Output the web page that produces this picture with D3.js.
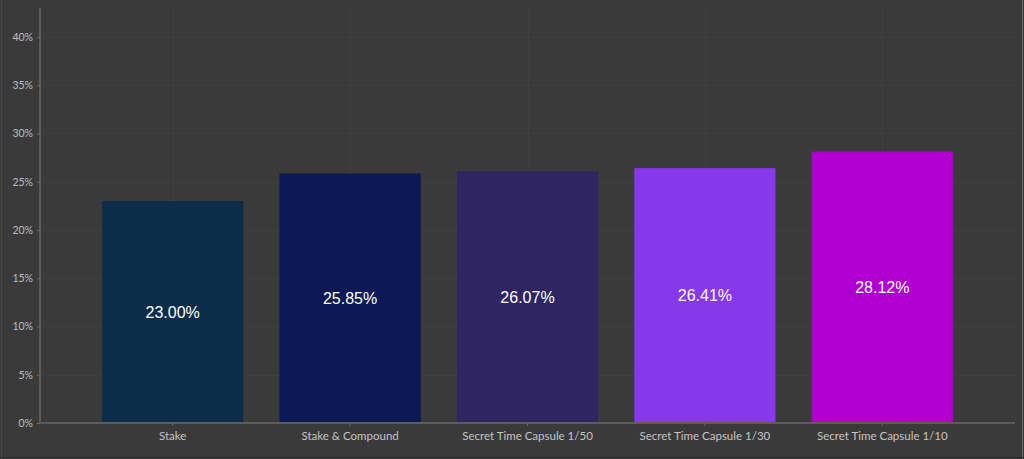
<!DOCTYPE html>
<html><head><meta charset="utf-8">
<script src="https://cdn.jsdelivr.net/npm/d3@7"></script>
<style>
html,body{margin:0;padding:0;background:#3a3a3b;}
svg{display:block;}
</style></head>
<body>
<svg id="chart" width="1024" height="459"></svg>
<script>
const categories = ["Stake","Stake & Compound","Secret Time Capsule 1/50","Secret Time Capsule 1/30","Secret Time Capsule 1/10"];
const values = [23.00, 25.85, 26.07, 26.41, 28.12];
const colors = ["#0b2d49","#0b1a55","#2f2563","#8638ea","#b000cf"];
const yTicks = [0,5,10,15,20,25,30,35,40];

const W = 1024, H = 459;
const m = {left:40, right:9, top:8, bottom:36};
const svg = d3.select("#chart");
svg.append("rect").attr("width",W).attr("height",H).attr("fill","#3a3a3b");
// borders
svg.append("line").attr("x1",1.5).attr("x2",1.5).attr("y1",0).attr("y2",H).attr("stroke","#474748").attr("stroke-width",1);
svg.append("line").attr("x1",W-1.5).attr("x2",W-1.5).attr("y1",0).attr("y2",H).attr("stroke","#6b6b6b").attr("stroke-width",1);
svg.append("line").attr("x1",0).attr("x2",W).attr("y1",H-1.5).attr("y2",H-1.5).attr("stroke","#2a2a2a").attr("stroke-width",1);

const x = d3.scaleBand().domain(categories).range([m.left, W-m.right]).paddingInner(0.204).paddingOuter(0.35);
const y = d3.scaleLinear().domain([0,43]).range([H-m.bottom, m.top]);

// grid
const g = svg.append("g");
g.selectAll(".hg").data(yTicks.filter(d=>d>0)).join("line")
  .attr("x1",m.left).attr("x2",W-m.right)
  .attr("y1",d=>Math.round(y(d))+0.5).attr("y2",d=>Math.round(y(d))+0.5)
  .attr("stroke","#444445").attr("stroke-dasharray","1,1");
g.selectAll(".vg").data(categories).join("line")
  .attr("x1",d=>Math.round(x(d)+x.bandwidth()/2)+0.5).attr("x2",d=>Math.round(x(d)+x.bandwidth()/2)+0.5)
  .attr("y1",m.top).attr("y2",y(0))
  .attr("stroke","#444445").attr("stroke-dasharray","1,1");

// bars
svg.selectAll(".bar").data(values).join("rect")
  .attr("x",(d,i)=>x(categories[i])).attr("width",x.bandwidth())
  .attr("y",d=>y(d)).attr("height",d=>y(0)-y(d))
  .attr("fill",(d,i)=>colors[i]);

svg.selectAll(".lbl").data(values).join("text")
  .attr("x",(d,i)=>x(categories[i])+x.bandwidth()/2)
  .attr("y",d=>(y(d)+y(0))/2)
  .attr("text-anchor","middle").attr("dominant-baseline","central")
  .attr("fill","#ffffff").attr("font-family","Liberation Sans, Arial, sans-serif").attr("font-size",16)
  .text(d=>d.toFixed(2)+"%");

// y axis
const ya = svg.append("g").attr("transform",`translate(${m.left},0)`)
  .call(d3.axisLeft(y).tickValues(yTicks).tickSize(3).tickPadding(4).tickFormat(d=>d+"%"));
ya.select(".domain").attr("stroke","#5c5c5d").attr("stroke-width",2).attr("d",`M0,${m.top}V${y(0)}`);
ya.selectAll(".tick line").attr("stroke","#6a6a6a");
ya.selectAll("text").attr("fill","#bdbdbd").attr("font-family","Lato, sans-serif").attr("font-size",10.5);

// x axis
const xa = svg.append("g").attr("transform",`translate(0,${y(0)})`)
  .call(d3.axisBottom(x).tickSize(3).tickPadding(6));
xa.select(".domain").attr("stroke","#5c5c5d").attr("stroke-width",2).attr("d",`M${m.left},0H${W-m.right}`);
xa.selectAll(".tick line").attr("stroke","#6a6a6a");
xa.selectAll("text").attr("fill","#c4c4c4").attr("font-family","Lato, sans-serif").attr("font-size",11.5);
</script>
</body></html>
